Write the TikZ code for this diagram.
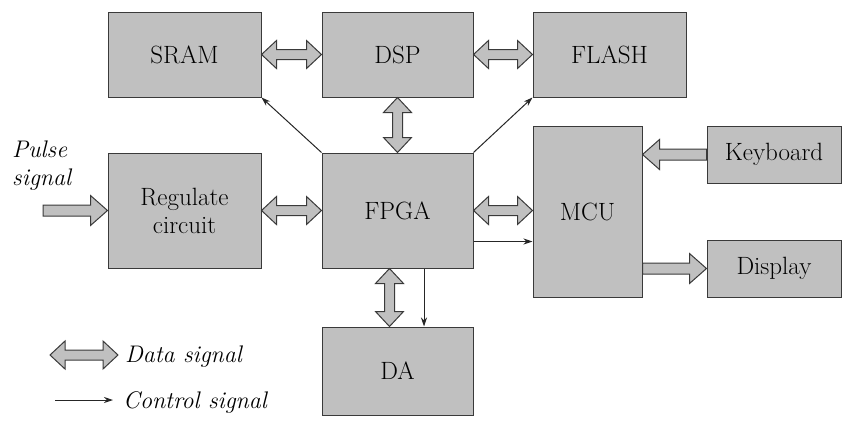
\documentclass[tikz,border=0pt]{standalone}
\usetikzlibrary{arrows.meta,calc}

\definecolor{boxgray}{HTML}{C0C0C0}
\definecolor{edgegray}{HTML}{3A3A3A}

\begin{document}
\begin{tikzpicture}[
    x=1pt, y=-1pt,
    box/.style={draw=edgegray, fill=boxgray, line width=1pt, inner sep=0pt, align=center, font=\fontsize{25}{28}\selectfont},
    ctrl/.style={-{Stealth[length=9pt,width=6pt]}, line width=1pt, draw=black!85},
    data/.style={draw=edgegray, fill=boxgray, line width=1pt, line join=miter,
        to path={let \p1=(\tikztostart), \p2=(\tikztotarget),
            \n1={veclen(\x2-\x1,\y2-\y1)}, \n2={atan2(\y2-\y1,\x2-\x1)} in
            [shift={(\p1)}, rotate=\n2]
            (0pt,0pt) -- (15pt,14pt) -- (15pt,5pt) -- (\n1-15pt,5pt) -- (\n1-15pt,14pt) -- (\n1,0pt)
            -- (\n1-15pt,-14pt) -- (\n1-15pt,-5pt) -- (15pt,-5pt) -- (15pt,-14pt) -- cycle}},
    busin/.style={draw=edgegray, fill=boxgray, line width=1pt, line join=miter,
        to path={let \p1=(\tikztostart), \p2=(\tikztotarget),
            \n1={veclen(\x2-\x1,\y2-\y1)}, \n2={atan2(\y2-\y1,\x2-\x1)} in
            [shift={(\p1)}, rotate=\n2]
            (0pt,5.5pt) -- (\n1-17pt,5.5pt) -- (\n1-17pt,15pt) -- (\n1,0pt)
            -- (\n1-17pt,-15pt) -- (\n1-17pt,-5.5pt) -- (0pt,-5.5pt) -- cycle}},
    label/.style={font=\fontsize{24}{28}\selectfont\itshape, inner sep=0pt}
]
\useasboundingbox (0,0) rectangle (843,421);

% Memory row
\node[box, minimum width=153, minimum height=85] (sram) at (184.5,54.5) {SRAM};
\node[box, minimum width=151, minimum height=85] (dsp) at (397.5,54.5) {DSP};
\node[box, minimum width=153, minimum height=85] (flash) at (609.5,54.5) {FLASH};

% Processing row
\node[box, minimum width=153, minimum height=115] (reg) at (184.5,210.5) {Regulate\\circuit};
\node[box, minimum width=151, minimum height=115] (fpga) at (397.5,210.5) {FPGA};
\node[box, minimum width=109, minimum height=171] (mcu) at (587.5,211.5) {MCU};
\node[box, minimum width=134, minimum height=57] (keyb) at (774,154.5) {Keyboard};
\node[box, minimum width=134, minimum height=57] (disp) at (774,268.5) {Display};

% Output
\node[box, minimum width=151, minimum height=88] (da) at (397.5,371) {DA};

% Input
\node[label, align=left, anchor=north west] (pulse) at (12,141) {Pulse\\signal};
\coordinate (pin) at (43,210.5);

% Data arrows
\draw[data] (sram.east) to (dsp.west);
\draw[data] (dsp.east) to (flash.west);
\draw[data] (dsp.south) to (fpga.north);
\draw[data] (reg.east) to (fpga.west);
\draw[data] (fpga.east) to (fpga.east -| mcu.west);
\draw[data] ([xshift=-8pt]fpga.south) to ([xshift=-8pt]da.north);
\draw[busin] (pin) to (reg.west);
\draw[busin] (keyb.west) to (keyb.west -| mcu.east);
\draw[busin] (disp.west -| mcu.east) to (disp.west);

% Control arrows
\draw[ctrl] (fpga.north west) -- (sram.south east);
\draw[ctrl] (fpga.north east) -- (flash.south west);
\draw[ctrl] ([yshift=-31pt]fpga.east) -- ([yshift=-31pt]fpga.east -| mcu.west);
\draw[ctrl] ([xshift=26.5pt]fpga.south) -- ([xshift=26.5pt]da.north);

% Legend
\coordinate (leg1a) at (50,355);
\coordinate (leg1b) at (118,355);
\draw[data] (leg1a) to (leg1b);
\node[label, anchor=base west] (legdata) at (125,362) {Data signal};
\coordinate (leg2a) at (55,400);
\coordinate (leg2b) at (113,400);
\draw[ctrl] (leg2a) -- (leg2b);
\node[label, anchor=base west] (legctrl) at (123,408) {Control signal};

\end{tikzpicture}
\end{document}
